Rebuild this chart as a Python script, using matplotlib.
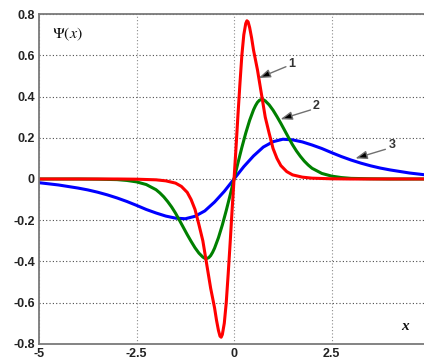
import matplotlib
matplotlib.use("Agg")
import matplotlib.pyplot as plt

# 1. Data (three wave functions)
x_red = [-5, -4, -3, -2.5, -2, -1.75, -1.5, -1.35, -1.2, -1.1, -1, -0.9, -0.8, -0.7, -0.6,
         -0.5, -0.45, -0.4, -0.36, -0.33, -0.3, -0.25, -0.2, -0.15, -0.1, -0.05,
         0, 0.05, 0.1, 0.15, 0.2, 0.25, 0.3, 0.33, 0.36, 0.4, 0.45, 0.5,
         0.6, 0.7, 0.8, 0.9, 1, 1.1, 1.2, 1.35, 1.5, 1.75, 2, 2.5, 3, 4, 5]
y_red = [0, 0, 0, -0.001, -0.004, -0.009, -0.02, -0.036, -0.065, -0.10, -0.148, -0.222, -0.30, -0.415, -0.53,
         -0.625, -0.685, -0.735, -0.763, -0.768, -0.755, -0.70, -0.60, -0.46, -0.31, -0.15,
         0, 0.15, 0.31, 0.46, 0.60, 0.70, 0.755, 0.768, 0.763, 0.735, 0.685, 0.625,
         0.53, 0.415, 0.30, 0.222, 0.148, 0.10, 0.065, 0.036, 0.02, 0.009, 0.004, 0.001, 0, 0, 0]

x_green = [-5, -4, -3.5, -3, -2.75, -2.5, -2.25, -2, -1.9, -1.8, -1.7, -1.6, -1.5, -1.4, -1.3, -1.2, -1.1, -1,
           -0.9, -0.8, -0.75, -0.7, -0.65, -0.6, -0.55, -0.5, -0.4, -0.3, -0.2, -0.1,
           0, 0.1, 0.2, 0.3, 0.4, 0.5, 0.55, 0.6, 0.65, 0.7, 0.75, 0.8, 0.9,
           1, 1.1, 1.2, 1.3, 1.4, 1.5, 1.6, 1.7, 1.8, 1.9, 2, 2.25, 2.5, 2.75, 3, 3.5, 4, 5]
y_green = [0, 0, -0.001, -0.003, -0.007, -0.014, -0.027, -0.052, -0.068, -0.087, -0.11, -0.136, -0.166, -0.2, -0.235, -0.27, -0.303, -0.334,
           -0.36, -0.379, -0.385, -0.386, -0.382, -0.372, -0.356, -0.336, -0.285, -0.223, -0.153, -0.078,
           0, 0.078, 0.153, 0.223, 0.285, 0.336, 0.356, 0.372, 0.382, 0.386, 0.385, 0.379, 0.36,
           0.334, 0.303, 0.27, 0.235, 0.2, 0.166, 0.136, 0.11, 0.087, 0.068, 0.052, 0.027, 0.014, 0.007, 0.003, 0.001, 0, 0]

x_blue = [-5, -4.5, -4, -3.75, -3.5, -3.25, -3, -2.75, -2.5, -2.25, -2, -1.75, -1.5, -1.25, -1,
          -0.75, -0.5, -0.25, 0, 0.25, 0.5, 0.75, 1, 1.25, 1.5, 1.75, 2, 2.25, 2.5, 2.75,
          3, 3.25, 3.5, 3.75, 4, 4.5, 5]
y_blue = [-0.018, -0.029, -0.044, -0.053, -0.064, -0.077, -0.092, -0.109, -0.128, -0.148, -0.165, -0.18, -0.19, -0.193, -0.181,
          -0.155, -0.112, -0.06, 0, 0.06, 0.112, 0.155, 0.181, 0.193, 0.19, 0.18, 0.165, 0.148, 0.128, 0.109,
          0.092, 0.077, 0.064, 0.053, 0.044, 0.029, 0.018]

x_ticks = [-5, -2.5, 0, 2.5]
x_tick_labels = ["-5", "-2.5", "0", "2.5"]
y_ticks = [0.8, 0.6, 0.4, 0.2, 0, -0.2, -0.4, -0.6, -0.8]
y_tick_labels = ["0.8", "0.6", "0.4", "0.2", "0", "-0.2", "-0.4", "-0.6", "-0.8"]

# curve labels: text, text position, arrow tip
curve_labels = ["1", "2", "3"]
label_pos = [(1.47, 0.56), (2.09, 0.355), (4.05, 0.165)]
arrow_tip = [(0.63, 0.49), (1.19, 0.29), (3.11, 0.10)]
arrow_start = [(1.33, 0.545), (1.96, 0.335), (3.88, 0.144)]

# 2. Figure
plt.rcParams['mathtext.fontset'] = 'stix'
fig = plt.figure(figsize=(4.24, 3.6), dpi=100)
ax = fig.add_axes([0.092, 0.045, 0.92, 0.9156])

ax.plot(x_blue, y_blue, color='#0000ff', lw=2.2, solid_joinstyle='round')
ax.plot(x_green, y_green, color='#008000', lw=2.2, solid_joinstyle='round')
ax.plot(x_red, y_red, color='#ff0000', lw=2.2, solid_joinstyle='round')

ax.set_xlim(-5, 5)
ax.set_ylim(-0.8, 0.8)
ax.set_xticks(x_ticks)
ax.set_xticklabels(x_tick_labels)
ax.set_yticks(y_ticks)
ax.set_yticklabels(y_tick_labels)
ax.tick_params(length=0, pad=3, labelsize=9, labelcolor='#222222')
for lab in ax.get_xticklabels() + ax.get_yticklabels():
    lab.set_fontfamily('Liberation Sans')
    lab.set_fontweight('bold')

ax.xaxis.grid(True, linestyle=(0, (1, 2)), color='0.55', lw=0.8)
ax.yaxis.grid(True, linestyle=(0, (1, 2)), color='0.3', lw=0.8)
ax.set_axisbelow(True)
for s in ax.spines.values():
    s.set_color('#7a7a7a')
    s.set_linewidth(1.3)

# 3. Annotations
for txt, pos, tip, start in zip(curve_labels, label_pos, arrow_tip, arrow_start):
    ax.annotate('', xy=tip, xytext=start,
                arrowprops=dict(arrowstyle='-|>,head_length=0.7,head_width=0.25',
                                ec='#707070', fc='black', lw=1.0, shrinkA=0, shrinkB=0))
    ax.text(pos[0], pos[1], txt, fontsize=9, fontweight='bold', color='#333333',
            family='Liberation Sans', ha='center', va='center')

ax.text(-4.28, 0.70, r'$\Psi(x)$', fontsize=11.5, ha='center', va='center', color='#111111')
ax.text(4.39, -0.717, 'x', fontsize=11, family='Liberation Serif', style='italic',
        fontweight='bold', ha='center', va='center', color='#111111')

fig.savefig('out.png', dpi=100)
